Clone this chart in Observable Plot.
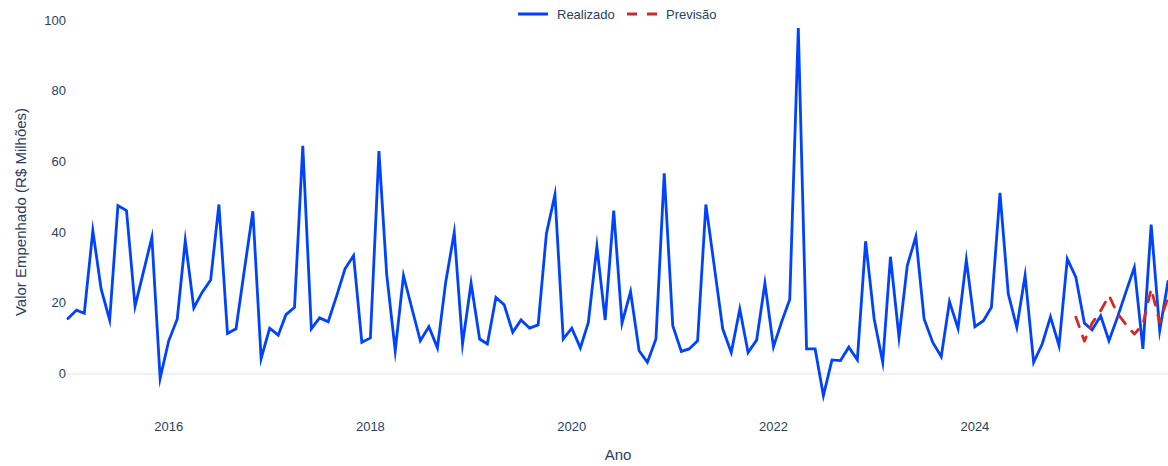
<!DOCTYPE html>
<html>
<head>
<meta charset="utf-8">
<script src="https://cdn.jsdelivr.net/npm/d3@7"></script>
<script src="https://cdn.jsdelivr.net/npm/@observablehq/plot@0.6"></script>
<style>
  html, body { margin: 0; padding: 0; background: #fff; }
  #wrap { position: relative; width: 1168px; height: 466px; font-family: "Liberation Sans", Arial, sans-serif; color: #2a3f5f; }
  .item { position: absolute; top: 0; display: flex; align-items: center; height: 18px; white-space: nowrap; font-size: 13px; }
  .item svg { margin-right: 9px; }
  .xtitle { position: absolute; left: 0; width: 1236px; top: 446px; text-align: center; font-size: 15px; }
  .ytitle { position: absolute; left: 20px; top: 212px; font-size: 15px; white-space: nowrap; transform: translate(-50%, -50%) rotate(-90deg); }
</style>
</head>
<body>
<div id="wrap">
  <div id="chart"></div>
  <div class="item" style="left:518px;top:5px;">
    <svg width="30" height="6"><line x1="0" y1="3" x2="30" y2="3" stroke="#0043ff" stroke-width="3"/></svg>
    <span>Realizado</span>
  </div>
  <div class="item" style="left:627px;top:5px;">
    <svg width="30" height="6"><line x1="0" y1="3" x2="30" y2="3" stroke="#d62728" stroke-width="3" stroke-dasharray="10,10"/></svg>
    <span>Previsão</span>
  </div>
  <div class="xtitle">Ano</div>
  <div class="ytitle">Valor Empenhado (R$ Milhões)</div>
</div>
<script>
// Monthly series starting January 2015 (R$ millions)
const startYear = 2015;
const realizado = [
  15.6, 18.0, 17.1, 40.5, 24.0, 15.2, 47.6, 46.2, 19.1, 28.7, 38.6, -1.3,
  9.3, 15.5, 37.7, 18.6, 23.0, 26.5, 47.9, 11.4, 12.7, 29.2, 46.0, 4.3,
  12.9, 10.9, 16.7, 18.8, 64.5, 12.7, 15.8, 14.7, 22.1, 29.7, 33.4, 8.9,
  10.1, 63.0, 28.2, 6.5, 27.8, 18.3, 9.3, 13.3, 7.3, 25.9, 40.0, 8.4,
  25.6, 9.8, 8.4, 21.6, 19.5, 11.7, 15.2, 12.9, 13.8, 39.6, 50.7, 9.8,
  12.9, 7.3, 14.5, 36.0, 15.2, 46.2, 14.3, 23.2, 6.5, 3.2, 9.8, 56.7,
  13.6, 6.3, 7.0, 9.3, 47.9, 30.1, 12.7, 6.0, 18.3, 6.0, 9.5, 25.6,
  7.6, 15.0, 21.0, 97.9, 7.0, 7.0, -6.2, 3.9, 3.7, 7.5, 3.9, 37.5,
  15.5, 3.2, 33.1, 10.3, 30.6, 38.8, 15.5, 8.9, 4.8, 20.4, 12.8, 32.2,
  13.3, 15.0, 18.8, 51.2, 22.6, 13.1, 27.8, 3.2, 8.4, 16.1, 7.9, 32.5,
  27.3, 14.3, 12.4, 16.4, 9.3, 16.0, 23.0, 30.1, 7.0, 42.2, 12.2, 26.1
];
// Forecast, January–December 2025
const previsaoStartYear = 2025;
const previsao = [16.0, 9.2, 14.3, 17.8, 22.1, 17.0, 14.0, 11.2, 14.0, 24.0, 14.6, 21.6];

const xTickYears = [2016, 2018, 2020, 2022, 2024];
const yTicks = [0, 20, 40, 60, 80, 100];

const monthsFrom = (year, n) => d3.utcMonth.range(new Date(Date.UTC(year, 0, 1)), new Date(Date.UTC(year, n, 1)));
const realDates = monthsFrom(startYear, realizado.length);
const prevDates = monthsFrom(previsaoStartYear, previsao.length);
const realData = realizado.map((v, i) => ({date: realDates[i], value: v}));
const prevData = previsao.map((v, i) => ({date: prevDates[i], value: v}));

const chart = Plot.plot({
  width: 1168,
  height: 466,
  marginLeft: 67.5,
  marginRight: 0.5,
  marginTop: 8,
  marginBottom: 54,
  style: {fontFamily: "'Liberation Sans', Arial, sans-serif", fontSize: "13px", color: "#2a3f5f", background: "white", overflow: "visible"},
  x: {
    type: "utc",
    domain: [realDates[0], realDates[realDates.length - 1]],
    ticks: xTickYears.map(y => new Date(Date.UTC(y, 0, 1))),
    tickFormat: d3.utcFormat("%Y"),
    tickSize: 0,
    tickPadding: 9.5,
    label: null
  },
  y: {
    domain: [-11, 103.4],
    ticks: yTicks,
    tickSize: 0,
    tickPadding: 2,
    label: null
  },
  marks: [
    Plot.ruleY([0], {stroke: "#ebf0f8", strokeWidth: 2}),
    Plot.line(realData, {x: "date", y: "value", stroke: "#0043ff", strokeWidth: 2.8, strokeLinejoin: "miter", strokeMiterlimit: 10}),
    Plot.line(prevData, {x: "date", y: "value", stroke: "#d62728", strokeWidth: 2.8, strokeDasharray: "10,10"})
  ]
});
document.getElementById("chart").appendChild(chart);
</script>
</body>
</html>
